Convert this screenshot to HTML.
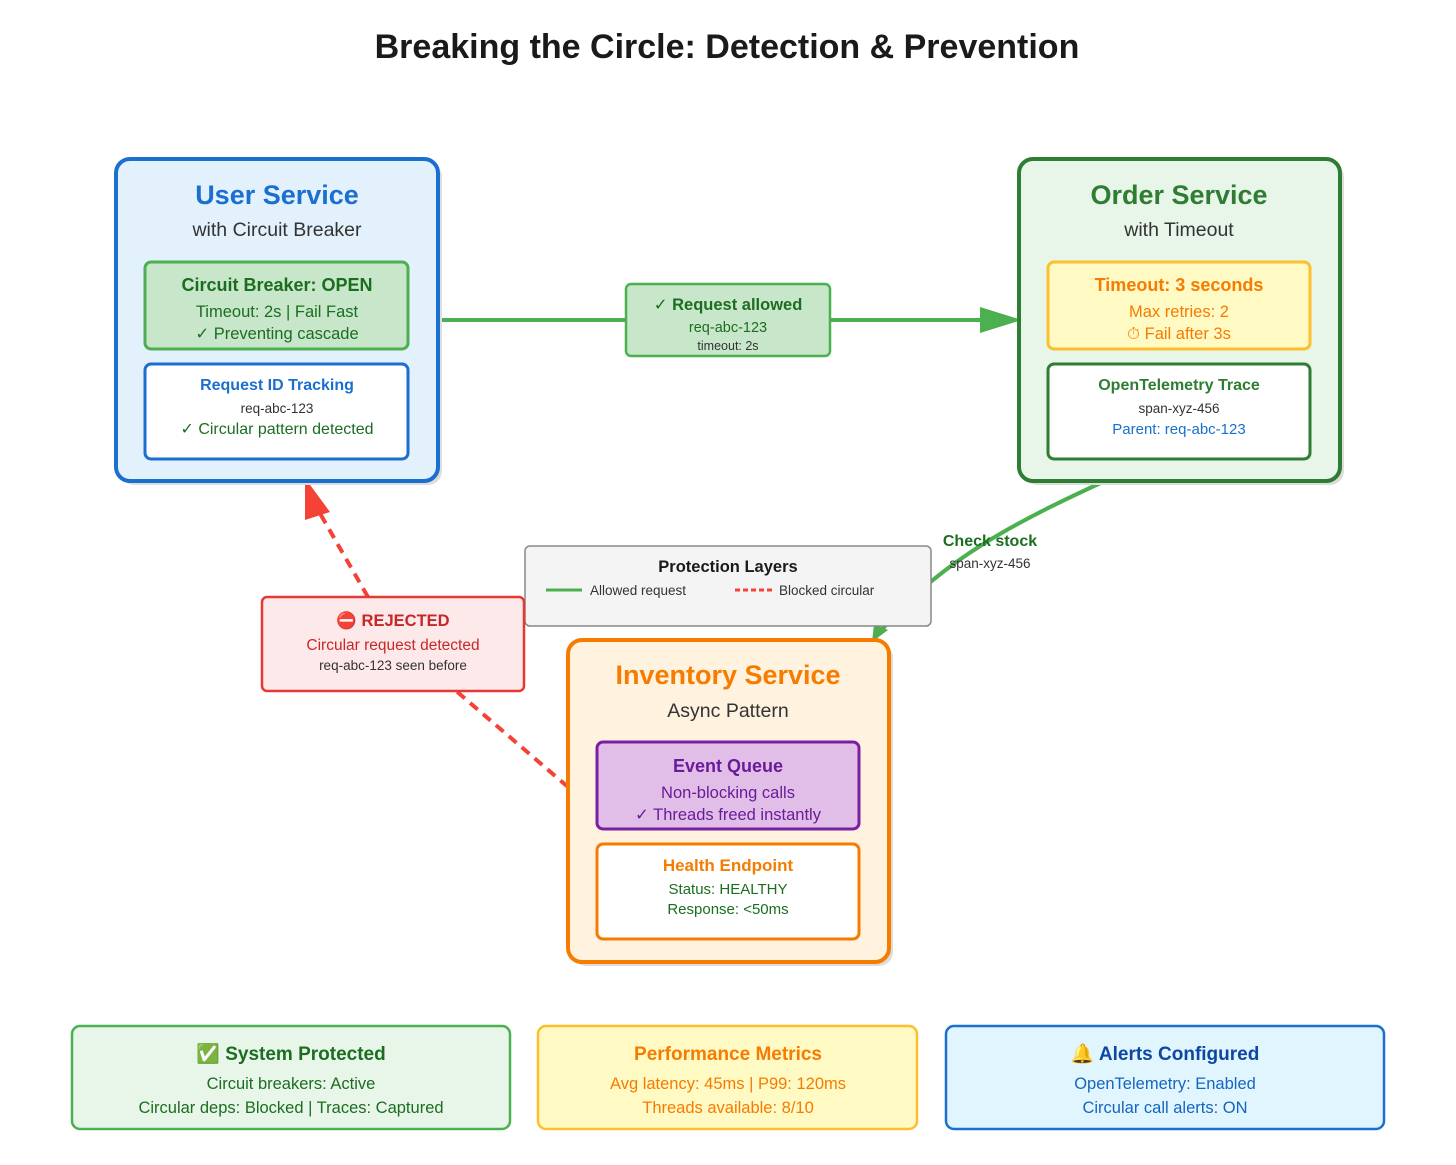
<!DOCTYPE html>
<html><head><meta charset="utf-8"><style>
html,body{margin:0;padding:0;background:#fff;}
svg{display:block;font-family:"Liberation Sans","DejaVu Sans",sans-serif;}
</style></head><body>
<svg width="1456" height="1165" viewBox="0 0 1456 1165" xmlns="http://www.w3.org/2000/svg">
<text x="727" y="58" text-anchor="middle" font-size="34" font-weight="bold" fill="#1a1a1a">Breaking the Circle: Detection &amp; Prevention</text>

<!-- connectors -->
<line x1="438" y1="320" x2="985" y2="320" stroke="#4caf50" stroke-width="4"/>
<path d="M980,307 L1022,320 L980,333z" fill="#4caf50"/>
<path d="M1105,481 C1020,520 940,560 880,632" fill="none" stroke="#4caf50" stroke-width="4"/>
<path d="M872,642 L874,624 L888,630z" fill="#4caf50"/>
<path d="M568,787 L455,690" stroke="#f44336" stroke-width="4" stroke-dasharray="10,7" fill="none"/>
<path d="M368,597 L318,510" stroke="#f44336" stroke-width="4" stroke-dasharray="10,7" fill="none"/>
<path d="M305,478 L330,512 L305,520z" fill="#f44336"/>

<!-- User Service -->
<rect x="120" y="163" width="322" height="322" rx="14" fill="#ddd"/>
<rect x="116" y="159" width="322" height="322" rx="14" fill="#e3f1fc" stroke="#1a6fcf" stroke-width="4"/>
<text x="277" y="204" text-anchor="middle" font-size="27" font-weight="bold" fill="#1a6fcf">User Service</text>
<text x="277" y="236" text-anchor="middle" font-size="19.5" fill="#333">with Circuit Breaker</text>
<rect x="145" y="262" width="263" height="87" rx="6" fill="#c8e6c9" stroke="#4caf50" stroke-width="3"/>
<text x="277" y="291" text-anchor="middle" font-size="18" font-weight="bold" fill="#1b6e20">Circuit Breaker: OPEN</text>
<text x="277" y="317" text-anchor="middle" font-size="16.5" fill="#1b6e20">Timeout: 2s | Fail Fast</text>
<text x="277" y="339" text-anchor="middle" font-size="16.5" fill="#1b6e20">✓ Preventing cascade</text>
<rect x="145" y="364" width="263" height="95" rx="6" fill="#fff" stroke="#1a6fcf" stroke-width="3"/>
<text x="277" y="390" text-anchor="middle" font-size="16" font-weight="bold" fill="#1a6fcf">Request ID Tracking</text>
<text x="277" y="413" text-anchor="middle" font-size="13.5" fill="#333">req-abc-123</text>
<text x="277" y="434" text-anchor="middle" font-size="16" fill="#1b6e20">✓ Circular pattern detected</text>

<!-- Order Service -->
<rect x="1023" y="163" width="321" height="322" rx="14" fill="#ddd"/>
<rect x="1019" y="159" width="321" height="322" rx="14" fill="#e8f5e9" stroke="#2e7d32" stroke-width="4"/>
<text x="1179" y="204" text-anchor="middle" font-size="27" font-weight="bold" fill="#2e7d32">Order Service</text>
<text x="1179" y="236" text-anchor="middle" font-size="19.5" fill="#333">with Timeout</text>
<rect x="1048" y="262" width="262" height="87" rx="6" fill="#fff9c4" stroke="#fbc02d" stroke-width="3"/>
<text x="1179" y="291" text-anchor="middle" font-size="18" font-weight="bold" fill="#f57c00">Timeout: 3 seconds</text>
<text x="1179" y="317" text-anchor="middle" font-size="16.5" fill="#f57c00">Max retries: 2</text>
<text x="1179" y="339" text-anchor="middle" font-size="16.5" fill="#f57c00">⏱ Fail after 3s</text>
<rect x="1048" y="364" width="262" height="95" rx="6" fill="#fff" stroke="#2e7d32" stroke-width="3"/>
<text x="1179" y="390" text-anchor="middle" font-size="16" font-weight="bold" fill="#2e7d32">OpenTelemetry Trace</text>
<text x="1179" y="413" text-anchor="middle" font-size="13.5" fill="#333">span-xyz-456</text>
<text x="1179" y="434" text-anchor="middle" font-size="15" fill="#1a6fcf">Parent: req-abc-123</text>

<!-- Request allowed label -->
<rect x="626" y="284" width="204" height="72" rx="5" fill="#c8e6c9" stroke="#4caf50" stroke-width="2.5"/>
<text x="728" y="310" text-anchor="middle" font-size="16.5" font-weight="bold" fill="#1b6e20">✓ Request allowed</text>
<text x="728" y="332" text-anchor="middle" font-size="14.5" fill="#1b6e20">req-abc-123</text>
<text x="728" y="350" text-anchor="middle" font-size="12.5" fill="#333">timeout: 2s</text>

<text x="990" y="546" text-anchor="middle" font-size="16" font-weight="bold" fill="#1b6e20">Check stock</text>
<text x="990" y="568" text-anchor="middle" font-size="13.5" fill="#333">span-xyz-456</text>

<!-- Legend -->
<rect x="525" y="546" width="406" height="80" rx="5" fill="#f4f4f4" stroke="#888" stroke-width="1.5"/>
<text x="728" y="572" text-anchor="middle" font-size="16.5" font-weight="bold" fill="#1a1a1a">Protection Layers</text>
<line x1="546" y1="590" x2="582" y2="590" stroke="#4caf50" stroke-width="3"/>
<text x="590" y="595" font-size="13.5" fill="#333">Allowed request</text>
<line x1="735" y1="590" x2="772" y2="590" stroke="#f44336" stroke-width="3" stroke-dasharray="5,3"/>
<text x="779" y="595" font-size="13.5" fill="#333">Blocked circular</text>

<!-- Rejected -->
<rect x="262" y="597" width="262" height="94" rx="5" fill="#fde8ea" stroke="#e53935" stroke-width="2.5"/>
<text x="393" y="626" text-anchor="middle" font-size="16.5" font-weight="bold" fill="#c62828">⛔ REJECTED</text>
<text x="393" y="650" text-anchor="middle" font-size="15.5" fill="#c62828">Circular request detected</text>
<text x="393" y="670" text-anchor="middle" font-size="13.5" fill="#333">req-abc-123 seen before</text>

<!-- Inventory -->
<rect x="572" y="644" width="321" height="322" rx="14" fill="#ddd"/>
<rect x="568" y="640" width="321" height="322" rx="14" fill="#fff3e0" stroke="#f57c00" stroke-width="4"/>
<text x="728" y="684" text-anchor="middle" font-size="27" font-weight="bold" fill="#f57c00">Inventory Service</text>
<text x="728" y="717" text-anchor="middle" font-size="19.5" fill="#333">Async Pattern</text>
<rect x="597" y="742" width="262" height="87" rx="6" fill="#e1bee7" stroke="#7b1fa2" stroke-width="3"/>
<text x="728" y="772" text-anchor="middle" font-size="18" font-weight="bold" fill="#6a1b9a">Event Queue</text>
<text x="728" y="798" text-anchor="middle" font-size="16.5" fill="#6a1b9a">Non-blocking calls</text>
<text x="728" y="820" text-anchor="middle" font-size="16.5" fill="#6a1b9a">✓ Threads freed instantly</text>
<rect x="597" y="844" width="262" height="95" rx="6" fill="#fff" stroke="#f57c00" stroke-width="3"/>
<text x="728" y="871" text-anchor="middle" font-size="17" font-weight="bold" fill="#f57c00">Health Endpoint</text>
<text x="728" y="894" text-anchor="middle" font-size="15" fill="#1b6e20">Status: HEALTHY</text>
<text x="728" y="914" text-anchor="middle" font-size="15" fill="#1b6e20">Response: &lt;50ms</text>

<!-- Bottom -->
<rect x="72" y="1026" width="438" height="103" rx="8" fill="#e8f5e9" stroke="#4caf50" stroke-width="2.5"/>
<text x="291" y="1060" text-anchor="middle" font-size="19" font-weight="bold" fill="#1b6e20">✅ System Protected</text>
<text x="291" y="1089" text-anchor="middle" font-size="16.5" fill="#1b6e20">Circuit breakers: Active</text>
<text x="291" y="1113" text-anchor="middle" font-size="16.5" fill="#1b6e20">Circular deps: Blocked | Traces: Captured</text>
<rect x="538" y="1026" width="379" height="103" rx="8" fill="#fff9c4" stroke="#fbc02d" stroke-width="2.5"/>
<text x="728" y="1060" text-anchor="middle" font-size="19" font-weight="bold" fill="#f57c00">Performance Metrics</text>
<text x="728" y="1089" text-anchor="middle" font-size="16.5" fill="#f57c00">Avg latency: 45ms | P99: 120ms</text>
<text x="728" y="1113" text-anchor="middle" font-size="16.5" fill="#f57c00">Threads available: 8/10</text>
<rect x="946" y="1026" width="438" height="103" rx="8" fill="#e1f5fe" stroke="#1a6fcf" stroke-width="2.5"/>
<text x="1165" y="1060" text-anchor="middle" font-size="19" font-weight="bold" fill="#0d47a1">🔔 Alerts Configured</text>
<text x="1165" y="1089" text-anchor="middle" font-size="16.5" fill="#1565c0">OpenTelemetry: Enabled</text>
<text x="1165" y="1113" text-anchor="middle" font-size="16.5" fill="#1565c0">Circular call alerts: ON</text>
</svg>
</body></html>
